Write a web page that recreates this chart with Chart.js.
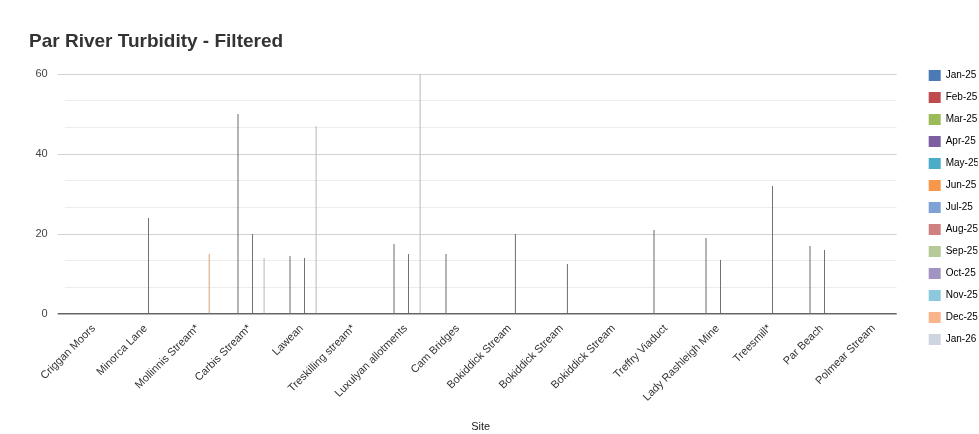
<!DOCTYPE html>
<html>
<head>
<meta charset="utf-8">
<script src="https://cdn.jsdelivr.net/npm/chart.js@4.4.1/dist/chart.umd.min.js"></script>
<style>
  html, body { margin: 0; padding: 0; background: #fff; overflow: hidden; }
  #wrap { position: relative; width: 979px; height: 434px; }
</style>
</head>
<body>
<div id="wrap"><canvas id="chart"></canvas></div>
<script>
// Sampling sites along the Par river (x axis)
const sites = [
  'Criggan Moors', 'Minorca Lane', 'Mollinnis Stream*', 'Carbis Stream*', 'Lawean',
  'Treskilling stream*', 'Luxulyan allotments', 'Cam Bridges', 'Bokiddick Stream',
  'Bokiddick Stream', 'Bokiddick Stream', 'Treffry Viaduct', 'Lady Rashleigh Mine',
  'Treesmill*', 'Par Beach', 'Polmear Stream'
];

// Sampling months (one series each)
const months = ['Jan-25', 'Feb-25', 'Mar-25', 'Apr-25', 'May-25', 'Jun-25', 'Jul-25',
                'Aug-25', 'Sep-25', 'Oct-25', 'Nov-25', 'Dec-25', 'Jan-26'];

// Turbidity readings per month, one value per site (null = no filtered reading)
const _ = null;
const jan25 = [_, _, _, _, _, _, _, _, _, _, _, _, _, _, _, _];
const feb25 = [_, _, _, _, _, _, _, _, _, _, _, _, _, _, _, _];
const mar25 = [_, _, _, _, _, _, _, _, _, _, _, _, _, _, _, _];
const apr25 = [_, _, _, 50, 14.5, _, 17.5, 15, _, _, _, 21, 19, _, 17, _];
const may25 = [_, _, _, _, _, _, _, _, _, _, _, _, _, _, _, _];
const jun25 = [_, _, _, _, _, _, _, _, _, _, _, _, _, _, _, _];
const jul25 = [_, _, _, _, _, _, _, _, _, _, _, _, _, _, _, _];
const aug25 = [_, _, _, _, _, _, _, _, _, _, _, _, _, _, _, _];
const sep25 = [_, 24, _, 20, 14, _, 15, _, _, _, _, _, 13.5, 32, 16, _];
const oct25 = [_, _, _, _, _, _, _, _, 20, 12.5, _, _, _, _, _, _];
const nov25 = [_, _, _, _, _, _, _, _, _, _, _, _, _, _, _, _];
const dec25 = [_, _, 15, _, _, _, _, _, _, _, _, _, _, _, _, _];
const jan26 = [_, _, _, 14, 47, _, 60, _, _, _, _, _, _, _, _, _];

// Y axis: major labelled ticks every 20, light minor lines in between
const yTickLabels = ['0', '20', '40', '60'];

const seriesValues = [jan25, feb25, mar25, apr25, may25, jun25, jul25,
                      aug25, sep25, oct25, nov25, dec25, jan26];

// Legend swatches
const swatch = ['#4a7bb5', '#c04b4f', '#9bbb59', '#7b5fa1', '#4aacc6', '#f6974a', '#7fa1d3',
                '#cf8081', '#b5ca98', '#a193c2', '#8cc9de', '#f8b48a', '#cfd5e0'];
// Hairline bar colours
const barColor = ['#707070', '#707070', '#707070', '#6a6a6a', '#707070', '#707070', '#707070',
                  '#707070', '#727272', '#6c6c6c', '#707070', '#dc9f78', '#b8b8b8'];

const FONT = "'Liberation Sans', Arial, Helvetica, sans-serif";
Chart.defaults.font.family = FONT;

const isMajor = v => Math.abs(v / 20 - Math.round(v / 20)) < 1e-6;

// Keep the legend column just right of the plot, aligned with its top
const legendPlacement = {
  id: 'legendPlacement',
  afterLayout(chart) {
    const lg = chart.legend, area = chart.chartArea;
    if (!lg) return;
    const dx = area.right + 21 - lg.left;
    const dy = area.top - 15 - lg.top;
    lg.left += dx; lg.right += dx;
    lg.top += dy; lg.bottom += dy;
  }
};

new Chart(document.getElementById('chart'), {
  type: 'bar',
  data: {
    labels: sites,
    datasets: months.map((m, i) => ({
      label: m,
      data: seriesValues[i],
      backgroundColor: barColor[i],
      borderWidth: 0
    }))
  },
  options: {
    responsive: true,
    maintainAspectRatio: false,
    animation: false,
    categoryPercentage: 0.725,
    barPercentage: 0.9,
    maxBarThickness: 1,
    layout: { padding: { left: 29, right: 22.3, top: 10, bottom: 0 } },
    plugins: {
      title: {
        display: true,
        text: 'Par River Turbidity - Filtered',
        align: 'start',
        color: '#333333',
        font: { family: FONT, size: 19, weight: 'bold' },
        padding: { top: 20.3, bottom: 20.9 }
      },
      legend: {
        position: 'right',
        align: 'start',
        maxWidth: 60,
        labels: {
          boxWidth: 12,
          boxHeight: 11,
          padding: 11,
          color: '#222',
          font: { family: FONT, size: 10 },
          generateLabels(chart) {
            return chart.data.datasets.map((ds, i) => ({
              text: ds.label,
              fillStyle: swatch[i],
              strokeStyle: swatch[i],
              lineWidth: 0,
              hidden: false,
              datasetIndex: i
            }));
          }
        }
      },
      tooltip: { enabled: false }
    },
    scales: {
      x: {
        grid: { display: false },
        border: { display: false },
        ticks: {
          autoSkip: false,
          minRotation: 45,
          maxRotation: 45,
          padding: 0,
          labelOffset: 3,
          color: '#333',
          font: { family: FONT, size: 11 }
        },
        title: {
          display: true,
          text: 'Site',
          color: '#222',
          font: { family: FONT, size: 11 },
          padding: { top: 0, bottom: 0 }
        },
        afterFit(scale) { scale.height = 120; }
      },
      y: {
        min: 0,
        max: 60,
        border: { display: false },
        ticks: {
          stepSize: 20 / 3,
          padding: 10,
          color: '#444',
          font: { family: FONT, size: 11 },
          callback: v => isMajor(v) ? yTickLabels[Math.round(v / 20)] : ''
        },
        grid: {
          drawTicks: true,
          tickLength: 7,
          color: ctx => {
            const v = ctx.tick.value;
            if (Math.abs(v) < 1e-6) return '#666666';
            return isMajor(v) ? '#d2d2d2' : '#ededed';
          },
          tickColor: ctx => {
            const v = ctx.tick.value;
            if (Math.abs(v) < 1e-6) return '#666666';
            return isMajor(v) ? '#d2d2d2' : 'rgba(0,0,0,0)';
          },
          lineWidth: ctx => Math.abs(ctx.tick.value) < 1e-6 ? 1.5 : 1
        },
        afterFit(scale) { scale.width = 35.7; }
      }
    }
  },
  plugins: [legendPlacement]
});
</script>
</body>
</html>
